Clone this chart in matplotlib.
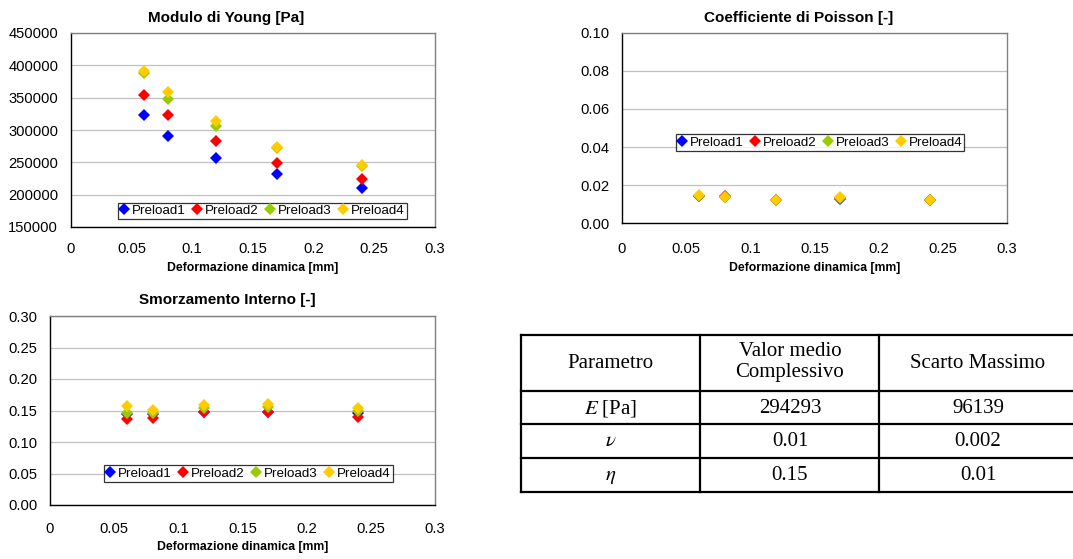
import matplotlib
matplotlib.use("Agg")
import matplotlib.pyplot as plt
from matplotlib.lines import Line2D

plt.rcParams['font.family'] = ['Liberation Sans', 'DejaVu Sans']
plt.rcParams['mathtext.fontset'] = 'stix'

# ---- data ----
deform = [0.06, 0.08, 0.12, 0.17, 0.24]
series_names = ["Preload1", "Preload2", "Preload3", "Preload4"]
colors = ["#0000FF", "#FF0000", "#99CC00", "#FFCC00"]

young_p1 = [323300, 291300, 257100, 231300, 210600]
young_p2 = [354300, 323300, 283000, 249400, 223500]
young_p3 = [388000, 348700, 306800, 271600, 244700]
young_p4 = [391000, 358500, 314000, 274200, 245700]

poisson_p1 = [0.0140, 0.0137, 0.0119, 0.0127, 0.0121]
poisson_p2 = [0.0143, 0.0143, 0.0119, 0.0131, 0.0122]
poisson_p3 = [0.0144, 0.0139, 0.0120, 0.0134, 0.0123]
poisson_p4 = [0.0145, 0.0138, 0.0120, 0.0136, 0.0123]

damp_p1 = [0.1450, 0.1440, 0.1480, 0.1480, 0.1466]
damp_p2 = [0.1360, 0.1376, 0.1470, 0.1470, 0.1400]
damp_p3 = [0.1455, 0.1455, 0.1534, 0.1560, 0.1490]
damp_p4 = [0.1577, 0.1508, 0.1587, 0.1603, 0.1534]

x_ticks = [0, 0.05, 0.1, 0.15, 0.2, 0.25, 0.3]
x_ticklabels = ["0", "0.05", "0.1", "0.15", "0.2", "0.25", "0.3"]

table_header = ["Parametro", "Valor medio\nComplessivo", "Scarto Massimo"]
table_params = ["$E$ [Pa]", r"$\nu$", r"$\eta$"]
table_mean = ["294293", "0.01", "0.15"]
table_maxdev = ["96139", "0.002", "0.01"]

# ---- figure ----
W, H = 1073, 559
fig = plt.figure(figsize=(W / 100, H / 100), dpi=100)


def ax_rect(l, t, r, b):
    return [l / W, 1 - b / H, (r - l) / W, (b - t) / H]


def style_axes(ax, ylim, yticks, yfmt, xpad):
    ax.set_xlim(0, 0.3)
    ax.set_ylim(*ylim)
    ax.set_xticks(x_ticks)
    ax.set_xticklabels(x_ticklabels)
    ax.set_yticks(yticks)
    ax.set_yticklabels([yfmt(v) for v in yticks])
    ax.tick_params(axis='both', length=0, labelsize=10.6, colors='#000000')
    ax.tick_params(axis='y', pad=9)
    ax.tick_params(axis='x', pad=xpad)
    ax.grid(axis='y', color='#C0C0C0', lw=0.9)
    ax.set_axisbelow(True)
    for s in ['left', 'bottom']:
        ax.spines[s].set_color('#000000')
        ax.spines[s].set_linewidth(1.0)
    for s in ['top', 'right']:
        ax.spines[s].set_color('#808080')
        ax.spines[s].set_linewidth(1.0)
    ax.set_xlabel("Deformazione dinamica [mm]", fontsize=8.8, fontweight='bold', labelpad=4)


def add_legend(ax, cx, cy):
    handles = [Line2D([], [], marker='D', ls='none', color=c, markersize=6, markeredgewidth=0)
               for c in colors]
    leg = ax.legend(handles, series_names, loc='center', bbox_to_anchor=(cx / W, 1 - cy / H),
                    bbox_transform=fig.transFigure, ncol=4, fontsize=9.6, frameon=True,
                    fancybox=False, edgecolor='#000000', handlelength=0.6, handletextpad=0.3,
                    columnspacing=0.55, borderpad=0.15, borderaxespad=0)
    leg.get_frame().set_linewidth(0.9)


def scatter_series(ax, data):
    for vals, c in zip(data, colors):
        ax.plot(deform, vals, ls='none', marker='D', color=c, markersize=6.5, markeredgewidth=0)


# Young's modulus
ax1 = fig.add_axes(ax_rect(70.7, 33, 435, 227))
scatter_series(ax1, [young_p1, young_p2, young_p3, young_p4])
style_axes(ax1, (150000, 450000), list(range(150000, 450001, 50000)), lambda v: f"{v:d}", 11)
add_legend(ax1, 262.5, 211)
fig.text(226 / W, 1 - 18 / H, "Modulo di Young [Pa]", ha='center', va='center',
         fontsize=11, fontweight='bold')

# Poisson
ax2 = fig.add_axes(ax_rect(622, 33, 1007, 223))
scatter_series(ax2, [poisson_p1, poisson_p2, poisson_p3, poisson_p4])
style_axes(ax2, (0, 0.1), [0, 0.02, 0.04, 0.06, 0.08, 0.10], lambda v: f"{v:.2f}", 14)
add_legend(ax2, 820, 142.5)
fig.text(799 / W, 1 - 18 / H, "Coefficiente di Poisson [-]", ha='center', va='center',
         fontsize=11, fontweight='bold')

# Damping
ax3 = fig.add_axes(ax_rect(50, 316, 435, 505))
scatter_series(ax3, [damp_p1, damp_p2, damp_p3, damp_p4])
style_axes(ax3, (0, 0.3), [0, 0.05, 0.1, 0.15, 0.2, 0.25, 0.3], lambda v: f"{v:.2f}", 12)
add_legend(ax3, 248.5, 473.5)
fig.text(227 / W, 1 - 300 / H, "Smorzamento Interno [-]", ha='center', va='center',
         fontsize=11, fontweight='bold')

# ---- table ----
tab_left, tab_right = 521, 1080
col_x = [521, 700, 879]
row_y = [335, 391, 424, 458, 492]
lw = 1.6
for y in row_y:
    fig.add_artist(Line2D([tab_left / W, tab_right / W], [1 - y / H, 1 - y / H],
                          color='black', lw=lw, transform=fig.transFigure))
for x in col_x:
    fig.add_artist(Line2D([x / W, x / W], [1 - row_y[0] / H, 1 - row_y[-1] / H],
                          color='black', lw=lw, transform=fig.transFigure))

col_centers = [610.5, 790, 978]
serif = ['Liberation Serif', 'DejaVu Serif']
tfs = 15
hy = (row_y[0] + row_y[1]) / 2
fig.text(col_centers[0] / W, 1 - hy / H, table_header[0], ha='center', va='center',
         fontsize=tfs, family=serif)
fig.text(col_centers[1] / W, 1 - (hy - 1) / H, table_header[1], ha='center', va='center',
         fontsize=tfs, family=serif, linespacing=1.2)
fig.text(col_centers[2] / W, 1 - hy / H, table_header[2], ha='center', va='center',
         fontsize=tfs, family=serif)
for i in range(3):
    cy = (row_y[i + 1] + row_y[i + 2]) / 2
    for j, txt in enumerate([table_params[i], table_mean[i], table_maxdev[i]]):
        fig.text(col_centers[j] / W, 1 - (cy + 1) / H, txt, ha='center', va='center',
                 fontsize=tfs, family=serif)

fig.savefig("out.png", dpi=100)
